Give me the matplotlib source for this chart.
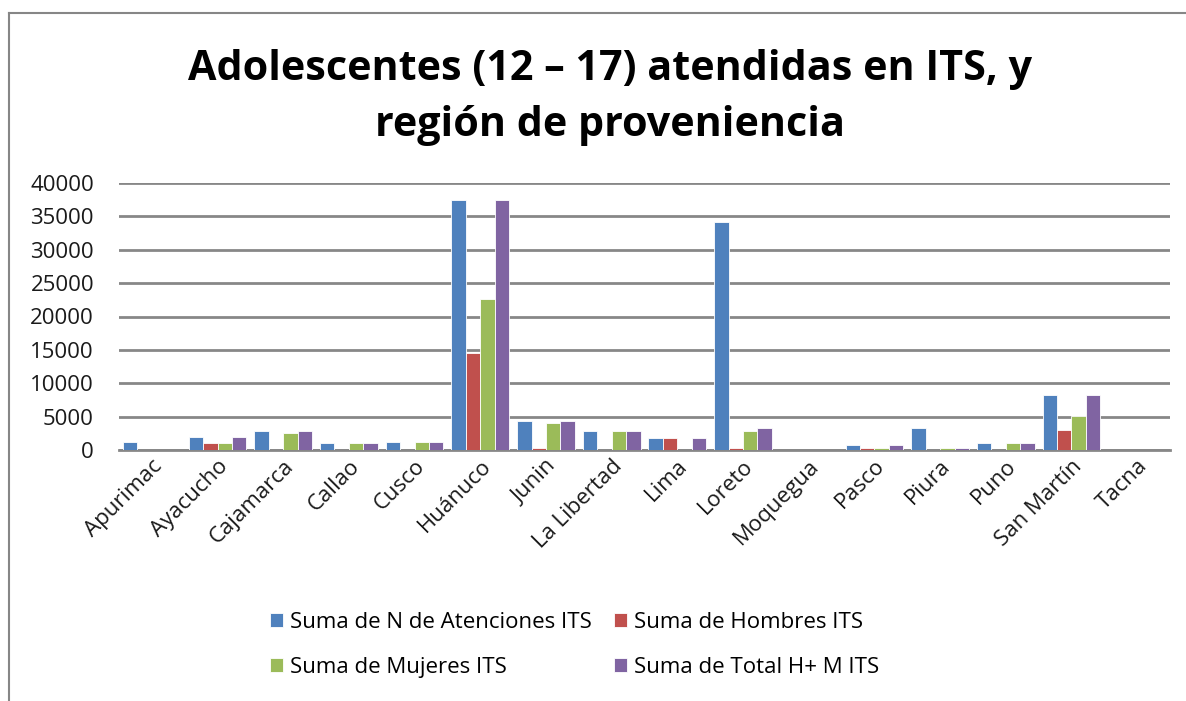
#!/usr/bin/env python3
"""
Adolescentes (12 - 17) atendidas en ITS, por region de provenencia.
"""
import matplotlib
matplotlib.use('Agg')
import matplotlib.pyplot as plt
from matplotlib.lines import Line2D
import numpy as np

plt.rcParams['font.family'] = ['Open Sans', 'DejaVu Sans']

regiones = ['Apurimac', 'Ayacucho', 'Cajamarca', 'Callao', 'Cusco', 'Huánuco',
            'Junin', 'La Libertad', 'Lima', 'Loreto', 'Moquegua', 'Pasco',
            'Piura', 'Puno', 'San Martín', 'Tacna']

atenciones = [1250, 2000, 2800, 1100, 1250, 37400, 4350, 2800, 1850, 34150,
              0, 700, 3250, 1100, 8200, 0]
hombres = [0, 1100, 0, 0, 0, 14500, 350, 0, 1850, 350,
           0, 350, 0, 0, 3000, 0]
mujeres = [0, 1100, 2600, 1100, 1250, 22600, 4000, 2800, 0, 2800,
           0, 350, 350, 1100, 5100, 0]
total_hm = [0, 2000, 2800, 1100, 1250, 37400, 4350, 2800, 1850, 3250,
            0, 700, 350, 1100, 8200, 0]

series = [
    ('Suma de N de Atenciones ITS', atenciones, '#4F81BD'),
    ('Suma de Hombres ITS', hombres, '#C0504D'),
    ('Suma de Mujeres ITS', mujeres, '#9BBB59'),
    ('Suma de Total H+ M ITS', total_hm, '#8064A2'),
]

W, H = 1186, 701
fig = plt.figure(figsize=(W / 100, H / 100), dpi=100)
ax = fig.add_axes([119 / W, 1 - 450 / H, (1170 - 119) / W, (450 - 183) / H])

x = np.arange(len(regiones))
bw = 0.22
for i, (name, vals, col) in enumerate(series):
    ax.bar(x + (i - 1.5) * bw, vals, bw, color=col, edgecolor='white',
           linewidth=0.6, label=name, zorder=3)

ax.set_xlim(-0.5, len(regiones) - 0.5)
ax.set_ylim(0, 40000)
ax.set_yticks(np.arange(0, 40001, 5000))
ax.yaxis.grid(True, color='#878787', linewidth=2, zorder=0)
ax.set_axisbelow(True)
for s in ['top', 'right', 'left']:
    ax.spines[s].set_visible(False)
ax.spines['bottom'].set_color('#878787')
ax.spines['bottom'].set_linewidth(2)
ax.tick_params(axis='y', length=0, pad=18, labelsize=16, labelcolor='#1a1a1a')
ax.tick_params(axis='x', length=0, pad=4, labelsize=16, labelcolor='#1a1a1a')
ax.set_xticks(x)
ax.set_xticklabels(regiones, rotation=45, ha='right', rotation_mode='anchor')

# Title
fig.text(610 / W, 1 - 70 / H, 'Adolescentes (12 – 17) atendidas en ITS, y',
         ha='center', va='center', fontsize=29.7, weight='bold')
fig.text(610 / W, 1 - 126 / H, 'región de proveniencia',
         ha='center', va='center', fontsize=29.7, weight='bold')

# Legend in two columns, filled row by row like the original
handles, labels = ax.get_legend_handles_labels()
order = [0, 2, 1, 3]
fig.legend([handles[k] for k in order], [labels[k] for k in order], ncol=2,
           loc='center left', bbox_to_anchor=(250 / W, 1 - 645 / H),
           frameon=False, fontsize=16, handlelength=0.6, handleheight=0.6,
           handletextpad=0.3, columnspacing=1.0, labelspacing=1.1)

# Chart frame (left and top edges visible)
fig.add_artist(Line2D([9 / W, 9 / W], [0, 1 - 13 / H], color='#868686', linewidth=1.5))
fig.add_artist(Line2D([9 / W, 1], [1 - 13 / H, 1 - 13 / H], color='#868686', linewidth=1.5))

plt.savefig('out.png', dpi=100)
